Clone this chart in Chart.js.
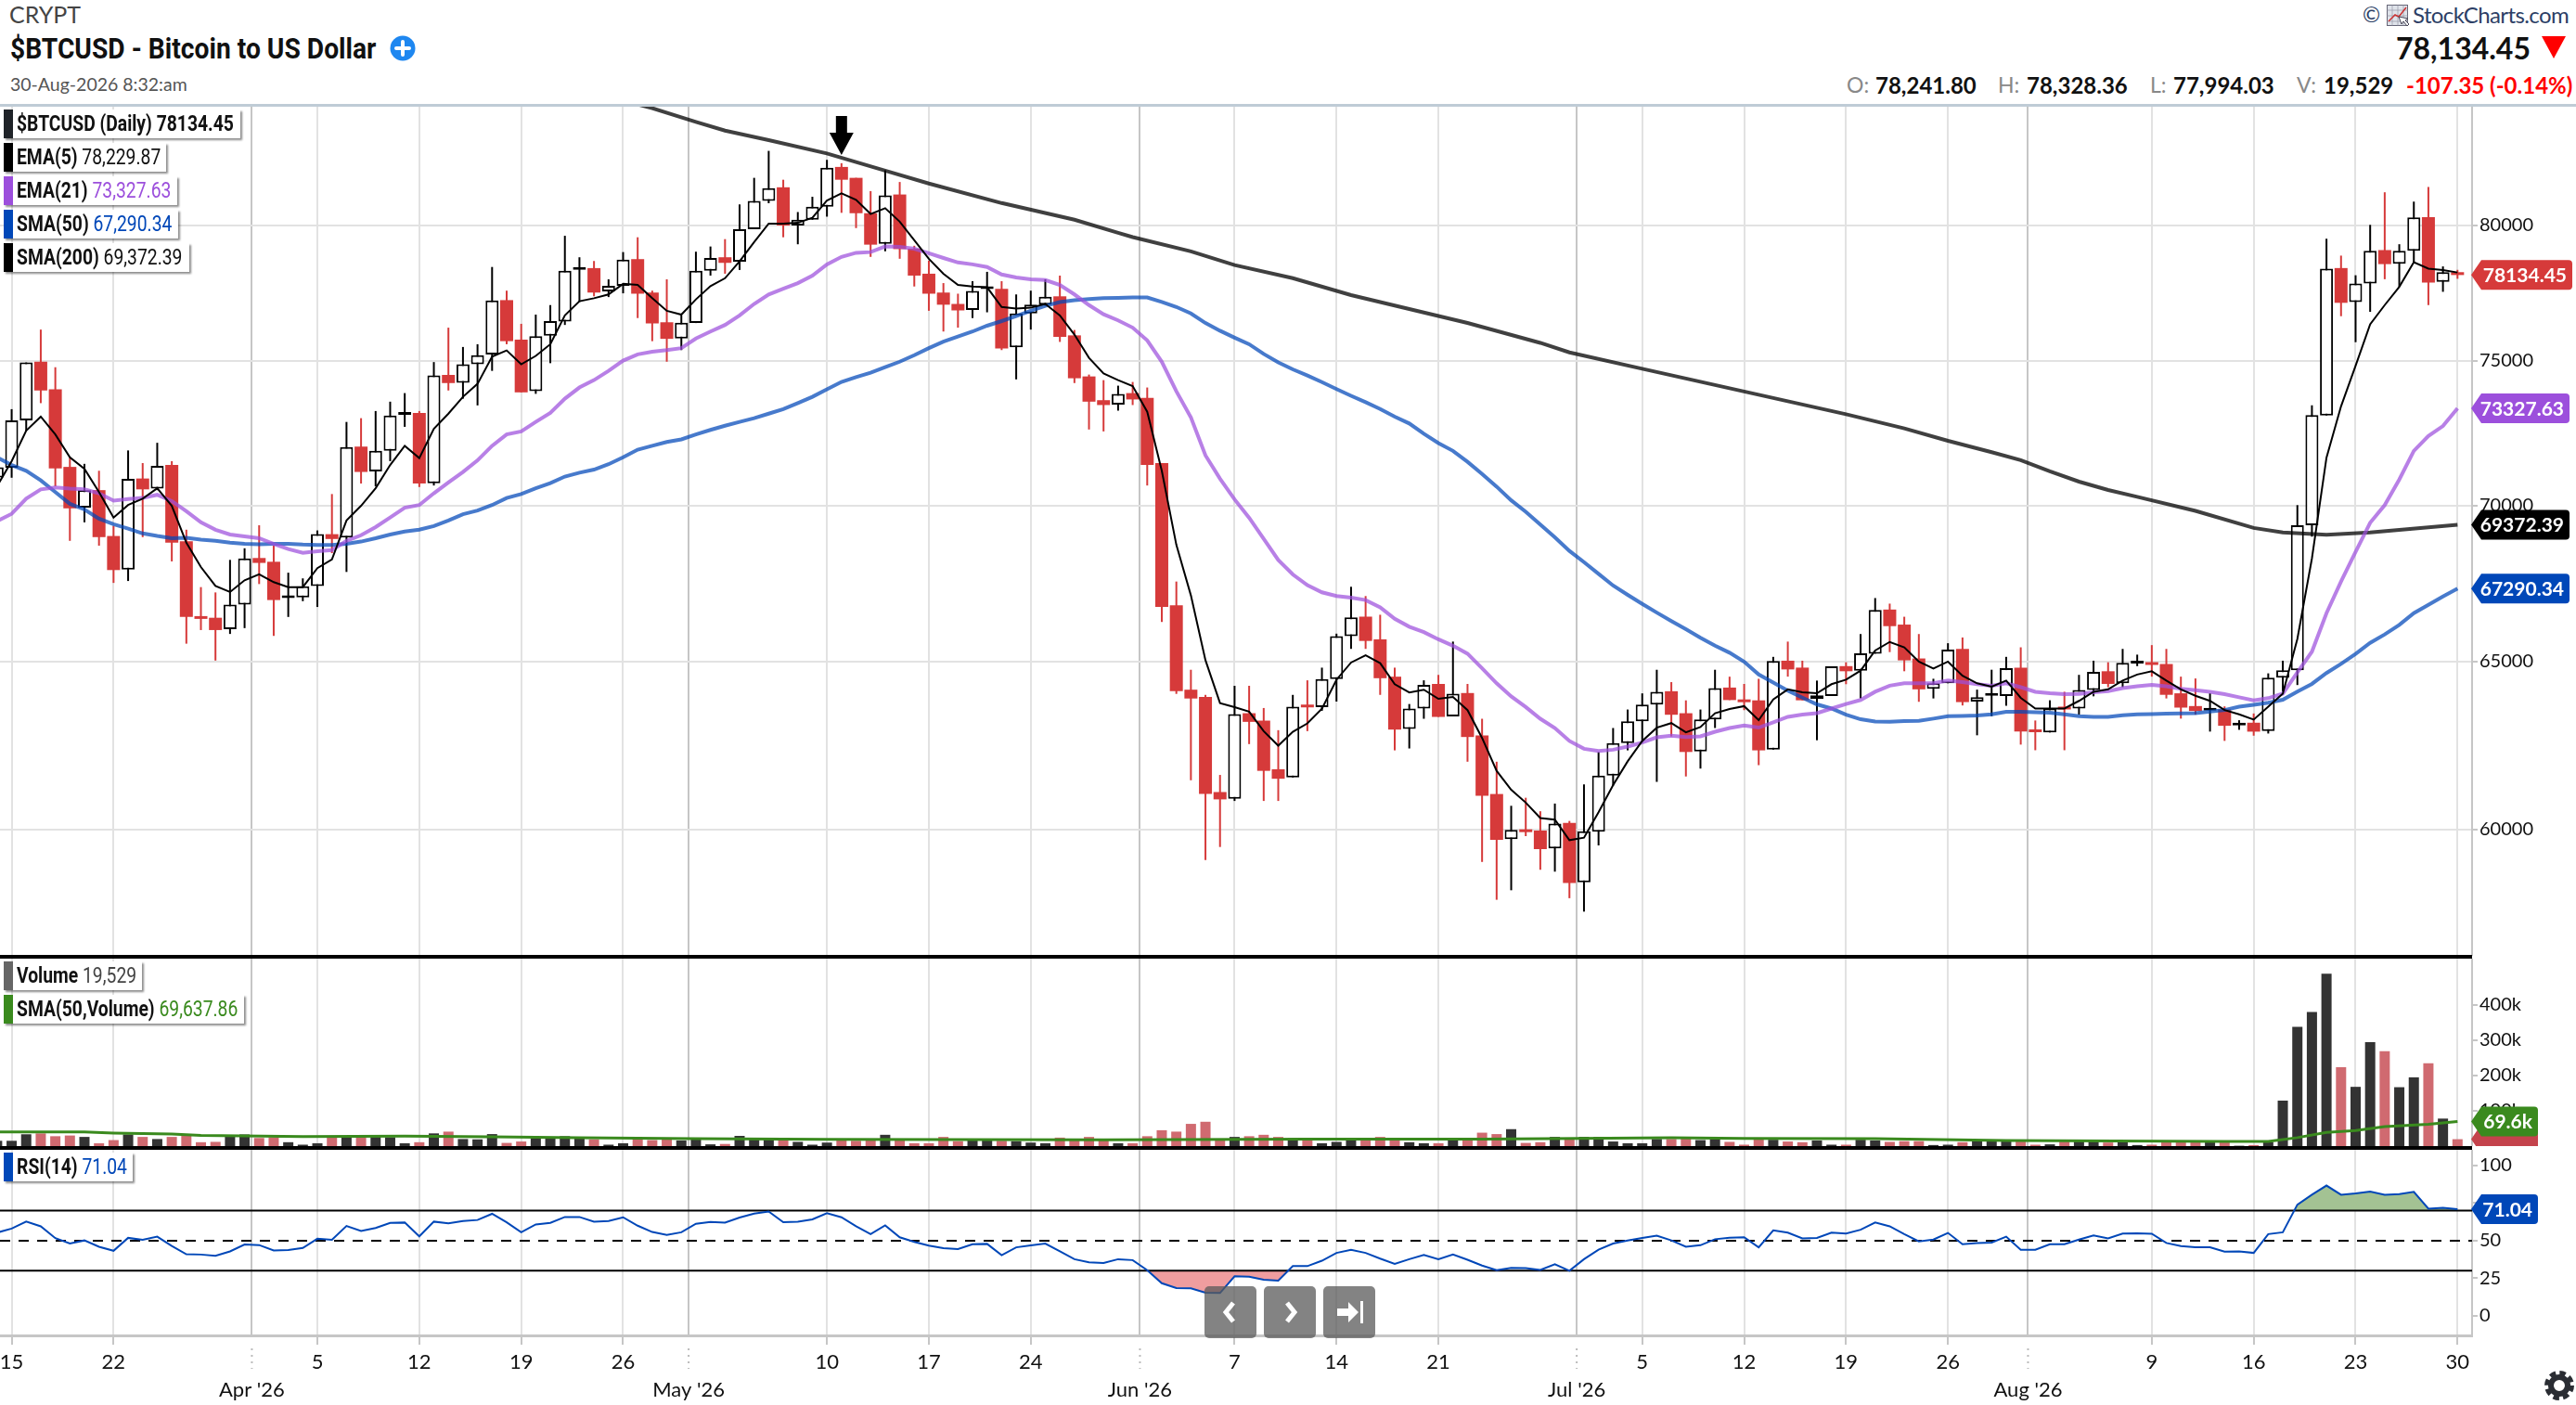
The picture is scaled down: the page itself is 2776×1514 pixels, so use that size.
<!DOCTYPE html>
<html>
<head>
<meta charset="utf-8">
<title>$BTCUSD</title>
<script src="https://cdn.jsdelivr.net/npm/chart.js@4"></script>
<style>
html, body { margin: 0; padding: 0; background: #fff; }
body { width: 2776px; height: 1514px; position: relative; overflow: hidden; font-family: Lato, sans-serif; color: #111; }
canvas { position: absolute; left: 0; }
.txt { position: absolute; white-space: nowrap; line-height: 1; }
.cond { display: inline-block; transform: scaleX(.91); transform-origin: left center; font-family: Roboto, sans-serif; }
.tag { position: absolute; left: 4px; height: 31px; background: #fff; box-shadow: 2px 2px 2px rgba(0,0,0,.45); white-space: nowrap; line-height: 31px; font-size: 23px; }
.tag i { position: absolute; left: 0; top: 0; bottom: 0; width: 10px; }
.tag span { position: absolute; left: 14px; top: 0; font-family: Roboto, sans-serif; transform: scaleX(.84); transform-origin: left center; font-weight: 700; }
.tag b { font-weight: 400; }
.rule { position: absolute; left: 0; width: 2664px; background: #000; }
.navBtn { position: absolute; top: 1386px; width: 56px; height: 56px; border-radius: 5px; background: rgba(90,90,90,.75); }
</style>
</head>
<body>

<div class="txt" style="left:10px;top:3px;font-size:25px;color:#444">CRYPT</div>
<div class="txt" style="left:11px;top:36px;font-size:31px;font-weight:700"><span class="cond" id="titleTxt">$BTCUSD - Bitcoin to US Dollar</span></div>
<svg style="position:absolute;left:420px;top:38px" width="28" height="28"><circle cx="14" cy="14" r="13.5" fill="#1e87f0"/><path d="M14 7v14M7 14h14" stroke="#fff" stroke-width="4" stroke-linecap="round"/></svg>
<div class="txt" style="left:11px;top:81px;font-size:19.5px;color:#555">30-Aug-2026 8:32:am</div>

<div class="txt" style="left:2546px;top:4px;font-size:23px;color:#2d3f66">©</div>
<svg style="position:absolute;left:2572px;top:5px" width="25" height="26"><rect x=".5" y=".5" width="22" height="22" fill="#dfe3ea" stroke="#667"/><path d="M6 .5v22M12 .5v22M18 .5v22M.5 6h22M.5 12h22M.5 18h22" stroke="#99a" stroke-width=".7"/><path d="M2 18L9 11L13 13L21 3" stroke="#c33" fill="none" stroke-width="1.5"/><path d="M13 13l3 8l2-3l4 5l2-2l-4-4l3-2z" fill="#fff" stroke="#445"/></svg>
<div class="txt" style="left:2600px;top:4px;font-size:24px;color:#2d3f66;letter-spacing:-.6px">StockCharts.com</div>

<div class="txt" style="right:49px;top:36px;font-size:32px;font-weight:700">78,134.45</div>
<svg style="position:absolute;left:2739px;top:39px" width="26" height="24"><path d="M0 0H26L13 24Z" fill="#f00"/></svg>

<div class="txt" style="left:1990px;top:80px;font-size:23px;color:#888">O:</div>
<div class="txt" style="left:2021px;top:80px;font-size:24px;font-weight:700">78,241.80</div>
<div class="txt" style="left:2153px;top:80px;font-size:23px;color:#888">H:</div>
<div class="txt" style="left:2184px;top:80px;font-size:24px;font-weight:700">78,328.36</div>
<div class="txt" style="left:2317px;top:80px;font-size:23px;color:#888">L:</div>
<div class="txt" style="left:2342px;top:80px;font-size:24px;font-weight:700">77,994.03</div>
<div class="txt" style="left:2475px;top:80px;font-size:23px;color:#888">V:</div>
<div class="txt" style="left:2504px;top:80px;font-size:24px;font-weight:700">19,529</div>
<div class="txt" style="left:2593px;top:80px;font-size:24px;font-weight:700;color:#f00">-107.35 (-0.14%)</div>

<div style="position:absolute;left:0;top:112px;width:2776px;height:3px;background:#bfccd6"></div>

<canvas id="priceChart" width="2776" height="915" style="top:115px"></canvas>
<canvas id="volChart" width="2776" height="202" style="top:1033px"></canvas>
<canvas id="rsiChart" width="2776" height="275" style="top:1239px"></canvas>

<div class="rule" style="top:1029px;height:4px"></div>
<div class="rule" style="top:1235px;height:4px"></div>

<div class="tag" style="top:118px;width:255px"><i style="background:#1f2328"></i><span>$BTCUSD (Daily) 78134.45</span></div>
<div class="tag" style="top:154px;width:175px"><i style="background:#000"></i><span>EMA(5) <b>78,229.87</b></span></div>
<div class="tag" style="top:190px;width:187px"><i style="background:#9c4fdc"></i><span>EMA(21) <b style="color:#9c4fdc">73,327.63</b></span></div>
<div class="tag" style="top:226px;width:188px"><i style="background:#0047b8"></i><span>SMA(50) <b style="color:#0047b8">67,290.34</b></span></div>
<div class="tag" style="top:262px;width:200px"><i style="background:#000"></i><span>SMA(200) <b>69,372.39</b></span></div>
<div class="tag" style="top:1036px;width:149px"><i style="background:#666"></i><span>Volume <b style="color:#444">19,529</b></span></div>
<div class="tag" style="top:1072px;width:259px"><i style="background:#3a8a1e"></i><span>SMA(50,Volume) <b style="color:#3a8a1e">69,637.86</b></span></div>
<div class="tag" style="top:1242px;width:139px"><i style="background:#0047b8"></i><span>RSI(14) <b style="color:#0047b8">71.04</b></span></div>

<div class="navBtn" style="left:1298px"><svg width="56" height="56"><path d="M31 18L23 28L31 38" fill="none" stroke="#fff" stroke-width="5"/></svg></div>
<div class="navBtn" style="left:1362px"><svg width="56" height="56"><path d="M25 18L33 28L25 38" fill="none" stroke="#fff" stroke-width="5"/></svg></div>
<div class="navBtn" style="left:1426px"><svg width="56" height="56"><path d="M15 24h12v-7l11 11l-11 11v-7H15z" fill="#fff"/><rect x="40" y="16" width="3" height="24" fill="#fff"/></svg></div>

<svg style="position:absolute;left:2742px;top:1477px" width="32" height="32" viewBox="0 0 32 32"><circle cx="16" cy="16" r="9" fill="none" stroke="#2a2d33" stroke-width="6"/><circle cx="16" cy="16" r="13" fill="none" stroke="#2a2d33" stroke-width="6" stroke-dasharray="6.2 4"/></svg>

<script>
//Candles, one per day from 14 Mar (day 0) to 30 Aug (day 169)
const opens = [
    70950, 71283, 72906, 74974, 73992, 71309, 69939, 70524, 69000, 67902, 70916, 70576, 71374, 68829, 66364, 66364, 66000, 66781,
    68280, 68158, 66990, 67011, 67377, 69060, 68951, 72002, 71152, 71858, 73100, 73167, 70759, 74503, 74228, 74882, 75235, 77206, 75767, 73926, 75907, 76424, 78325, 78393, 77527, 77737, 78729, 77485, 76396, 75809,
    76368, 78296, 78799, 78631, 79860, 80941, 81470, 80000, 80220, 80720, 82264, 81838, 80470, 79302, 81191, 79120, 78184, 77485, 77066, 76843, 77610, 77625, 75489, 76717, 77038, 77346, 75921, 74450, 73612, 73455, 73861,
    73691, 71440, 66756, 64128, 63905, 61076, 60882, 63413, 63190, 61743, 61503, 63627, 63599, 64452, 65784, 66399, 65685, 64527, 62940, 63552, 64304, 63320, 64026, 62745, 61019, 59718, 59982, 59965, 59454, 60186,
    58504, 59930, 61559, 62514, 63172, 63673, 64081, 63413, 62272, 63227, 64193, 63794, 63803, 62324, 65020, 64806, 63843, 63935, 64852, 64713, 65238, 66624, 66148, 65089, 64157, 64324, 65386, 63768, 63945, 63935, 64806,
    62898, 62833, 63565, 63555, 64120, 64694, 64324, 64935, 64917, 64917, 64018, 63630, 63490, 63528, 63045, 63127, 62877, 64499, 64722, 69351, 73078, 78395, 77133, 77820, 79069, 78555, 79044, 80322, 77881, 78241.80
];
const highs = [
    71300, 73298, 74948, 76130, 74777, 71636, 71413, 71178, 69329, 71871, 71440, 72133, 71505, 69207, 67340, 67170, 68219, 68597,
    69353, 68682, 67804, 67621, 69183, 70393, 72853, 72984, 73233, 73560, 73861, 73233, 74961, 76200, 75502, 75600, 78435, 77555, 76340, 76675, 77024, 79609, 78799, 78659, 77974, 78994, 79553, 77555, 77974, 76647,
    79008, 79204, 79483, 80808, 81838, 82896, 81764, 80515, 81103, 82543, 82411, 81838, 81323, 82132, 81676, 79232, 78673, 77835, 77443, 77905, 78254, 77905, 77416, 77555, 77974, 78114, 76116, 74516, 74319, 74123, 74254,
    74058, 71440, 67519, 64740, 63970, 61576, 64248, 64248, 63571, 62903, 63970, 64415, 64805, 65863, 67351, 67054, 66459, 64805, 63692, 64415, 64582, 65615, 64304, 63246, 61965, 60677, 60910, 60520, 60742, 60241,
    61299, 62253, 62968, 63525, 64016, 64740, 64360, 63803, 63525, 64740, 64527, 64304, 64462, 65139, 65614, 65020, 64407, 64843, 64972, 65851, 66990, 66812, 66396, 65851, 64463, 65564, 65743, 64130, 64741, 65139, 65436,
    63194, 63805, 64065, 64583, 65020, 64972, 65386, 65208, 65505, 65386, 64528, 64472, 64018, 63620, 63202, 63406, 64629, 65020, 70023, 73433, 79498, 78861, 78126, 80025, 81277, 79290, 80916, 81483, 78456, 78328.36
];
const lows = [
    70700, 70942, 72550, 73508, 70654, 68841, 69451, 68682, 67475, 67536, 68963, 70524, 68170, 65549, 65976, 65024, 65854, 66037,
    67438, 65793, 66389, 66890, 66706, 68438, 67828, 70746, 70654, 71505, 72683, 70628, 70680, 73953, 73665, 73429, 74647, 75600, 73887, 73835, 74921, 76298, 77136, 77346, 77318, 77457, 76549, 75711, 74974, 75390,
    76368, 78114, 78184, 78324, 79860, 80853, 79553, 79288, 80220, 80338, 80485, 79902, 78813, 79023, 78743, 77709, 76815, 76060, 76200, 76549, 76759, 75390, 74345, 76130, 76996, 75684, 74215, 72591, 72525, 73246, 73442,
    70680, 66231, 64000, 61420, 59129, 59498, 60817, 62487, 60817, 60817, 61503, 62875, 63487, 63766, 65387, 65387, 63970, 62301, 62357, 63246, 63302, 63320, 61965, 59076, 58020, 58284, 59806, 58856, 58803, 58064,
    57694, 59542, 61260, 62301, 62531, 61373, 62717, 61531, 61763, 62968, 63812, 63506, 61863, 62324, 64528, 63805, 62602, 63935, 64296, 63861, 65238, 65287, 64694, 63759, 63861, 64324, 63648, 62750, 63324, 63639, 62472,
    62305, 62833, 62305, 63370, 63926, 64204, 64204, 64852, 64528, 63861, 63250, 63370, 62861, 62583, 62914, 62738, 62803, 64073, 64270, 68979, 73078, 76617, 75674, 76776, 77979, 77697, 78616, 77023, 77513, 77994.03
];
const closes = [
    71300, 72906, 74948, 73953, 71256, 69915, 70524, 68963, 67889, 70903, 70550, 71348, 68780, 66389, 66328, 65976, 66781, 68268,
    68121, 66926, 67030, 67365, 69060, 68902, 71989, 71138, 71858, 73076, 73130, 70746, 74489, 74215, 74882, 75208, 77192, 75711, 73887, 75893, 76438, 78296, 78350, 77485, 77737, 78715, 77443, 76354, 75795, 76382,
    78296, 78771, 78589, 79860, 80941, 81441, 80000, 80220, 80720, 82234, 81764, 80470, 79274, 81161, 79106, 78114, 77443, 77038, 76829, 77541, 77640, 75447, 76717, 77038, 77332, 75865, 74385, 73560, 73442, 73835, 73638,
    71374, 66707, 64081, 63859, 61019, 60863, 63385, 63153, 61696, 61464, 63608, 63590, 64452, 65784, 66379, 65635, 64480, 62921, 63552, 64276, 63302, 64007, 62699, 60965, 59701, 59982, 59921, 59437, 60167, 58486,
    59947, 61559, 62514, 63172, 63673, 64063, 63367, 62253, 63227, 64174, 63812, 63747, 62301, 65010, 64750, 63805, 63954, 64843, 64694, 65248, 66614, 66099, 65030, 64139, 64324, 65366, 63750, 63898, 63965, 64787, 62861,
    62842, 63555, 63528, 64120, 64676, 64305, 64954, 64955, 64889, 63972, 63583, 63481, 63510, 63035, 63060, 62859, 64499, 64722, 69351, 73090, 78371, 77107, 77820, 79044, 78542, 79044, 80310, 77856, 78242, 78134.45
];

//Moving averages
const ema5 = [
    70654, 71505, 72552, 73037, 72421, 71636, 71243, 70458, 69610, 70026, 70236, 70589, 70000, 68780, 67987, 67377, 67182, 67560,
    67755, 67499, 67340, 67340, 67950, 68231, 69512, 70000, 70589, 71374, 72029, 71610, 72618, 73141, 73730, 74188, 75154, 75377, 74882, 75181, 75600, 76647, 77164, 77276, 77415, 77807, 77765, 77276, 76815, 76675,
    77234, 77723, 78016, 78645, 79371, 80074, 80074, 80103, 80294, 80956, 81235, 80985, 80441, 80662, 80147, 79441, 78743, 78184, 77765, 77709, 77681, 76955, 76899, 76927, 77066, 76647, 75949, 75111, 74555, 74319, 74110,
    73207, 71178, 68710, 67074, 65037, 63719, 63599, 63460, 62875, 62439, 62856, 63107, 63552, 64434, 64963, 65188, 64944, 64295, 64044, 64128, 63849, 63905, 63506, 62671, 61696, 61141, 60770, 60325, 60279, 59692,
    59762, 60492, 61280, 61976, 62578, 62977, 63116, 62838, 62996, 63413, 63543, 63627, 63204, 63833, 64139, 64046, 64018, 64296, 64435, 64713, 65337, 65604, 65436, 64991, 64778, 64991, 64555, 64324, 64222, 64407, 63880,
    63555, 63555, 63555, 63787, 64065, 64139, 64407, 64593, 64694, 64407, 64139, 63944, 63787, 63509, 63378, 63220, 63610, 64008, 65700, 68266, 71625, 73398, 74830, 76323, 77024, 77697, 78616, 78371, 78322, 78229.87
];
const ema21 = [
    69488, 69732, 70236, 70550, 70615, 70576, 70550, 70419, 70170, 70223, 70262, 70367, 70157, 69817, 69451, 69207, 69048, 68987,
    68926, 68743, 68573, 68451, 68500, 68536, 68841, 69024, 69292, 69610, 69935, 70026, 70419, 70785, 71138, 71531, 72029, 72421, 72526, 72853, 73167, 73665, 74058, 74319, 74647, 75014, 75235, 75332, 75390, 75461,
    75809, 76060, 76298, 76647, 77066, 77416, 77625, 77835, 78114, 78533, 78813, 78966, 78994, 79204, 79190, 79120, 78952, 78771, 78603, 78533, 78436, 78156, 78044, 77974, 77946, 77765, 77416, 77024, 76689, 76466, 76200,
    75740, 74974, 73926, 73010, 71701, 70910, 70214, 69603, 68909, 68214, 67748, 67401, 67173, 67054, 67004, 66925, 66697, 66329, 66081, 65913, 65685, 65486, 65238, 64787, 64323, 63924, 63599, 63246, 62968, 62580,
    62348, 62281, 62320, 62412, 62533, 62689, 62736, 62699, 62717, 62856, 62968, 63042, 62981, 63138, 63305, 63370, 63417, 63555, 63694, 63815, 64065, 64250, 64324, 64324, 64324, 64407, 64361, 64296, 64250, 64324, 64204,
    64065, 64018, 63991, 64000, 64046, 64083, 64176, 64231, 64278, 64231, 64157, 64111, 64065, 63991, 63897, 63804, 63869, 64008, 64657, 65300, 66511, 67521, 68479, 69436, 70023, 70881, 71854, 72369, 72712, 73327.63
];
const sma50 = [
    71636, 71374, 71178, 70851, 70458, 70065, 69878, 69573, 69390, 69244, 69085, 69000, 68926, 68939, 68878, 68841, 68780, 68743,
    68731, 68743, 68743, 68719, 68707, 68707, 68743, 68817, 68926, 69048, 69146, 69207, 69329, 69512, 69719, 69841, 70026, 70262, 70393, 70589, 70759, 70982, 71113, 71217, 71400, 71636, 71898, 72029, 72159, 72251,
    72421, 72578, 72722, 72853, 72984, 73141, 73298, 73508, 73730, 73992, 74254, 74424, 74581, 74777, 74974, 75208, 75461, 75697, 75879, 76060, 76270, 76438, 76619, 76815, 76996, 77136, 77206, 77248, 77276, 77290, 77304,
    77304, 77136, 76955, 76717, 76368, 76088, 75837, 75600, 75251, 74948, 74700, 74485, 74249, 74002, 73766, 73541, 73305, 73036, 72800, 72446, 72124, 71856, 71481, 71070, 70642, 70182, 69801, 69375, 68958, 68512,
    68145, 67768, 67391, 67093, 66805, 66527, 66260, 66002, 65734, 65486, 65268, 64990, 64594, 64347, 64100, 63886, 63681, 63555, 63370, 63231, 63166, 63157, 63176, 63185, 63250, 63324, 63333, 63342, 63380, 63454, 63454,
    63444, 63426, 63380, 63324, 63305, 63305, 63352, 63380, 63389, 63398, 63407, 63417, 63463, 63509, 63609, 63665, 63730, 63823, 64073, 64305, 64640, 64920, 65234, 65575, 65840, 66139, 66511, 66777, 67043, 67290.34
];
const sma200Days = [44, 45, 48, 50, 53, 57, 61, 64, 69, 74, 77, 78, 82, 85, 89, 93, 97, 101, 106, 108, 113, 120, 127, 131, 134, 137, 139, 141, 143, 145, 147, 151, 155, 157, 160, 163, 169];
const sma200 = [84750, 84600, 84050, 83700, 83320, 82793, 82120, 81617, 80860, 80220, 79720, 79560, 79022, 78505, 78016, 77391, 76880, 76371, 75650, 75308, 74721, 73916, 73122, 72629, 72200, 71810, 71540, 71160, 70810, 70530, 70300, 69830, 69266, 69117, 69042, 69117, 69372.39];

//Volume, in thousands
const volume = [
    15, 15, 33.5, 36, 28, 30, 26, 8, 17, 33, 26, 20, 26, 32, 11, 12, 28, 33,
    23, 25, 11, 4, 8, 26, 26, 26, 26, 25, 8, 11, 36, 41, 20, 19, 34, 9, 13, 22, 22, 28, 25, 19, 4, 8, 22, 17, 21, 16,
    20, 5, 6, 29, 20, 20, 19, 12, 4, 10, 19, 15, 19, 32, 21, 8, 8, 26, 14, 18, 17, 15, 14, 10, 8, 24, 18, 26, 21, 8, 8,
    28, 45, 41, 63, 69, 21, 26, 28, 32, 26, 22, 20, 8, 12, 19, 17, 26, 21, 11, 8, 8, 19, 18, 38, 34, 48, 9, 11, 26, 20,
    26, 26, 13, 8, 8, 20, 20, 25, 17, 20, 12, 4, 19, 18, 13, 11, 16, 4, 4, 18, 16, 12, 14, 14, 3, 4, 11, 14, 14, 14, 13,
    4, 5, 13, 13, 13, 10, 12, 3, 4, 13, 11, 11, 11, 11, 1, 3, 11, 129, 338, 380, 489, 224, 168, 295, 269, 167, 195, 235, 78, 19.529
];
const volSmaDays = [0, 6, 8, 12, 14, 21, 28, 34, 40, 48, 57, 76, 90, 102, 115, 120, 129, 138, 153, 156, 158, 160, 162, 164, 167, 169];
const volSma = [40, 40, 37, 34, 30, 27, 28, 26, 24, 21, 19, 17.6, 20, 20, 24, 22, 21, 16, 13, 13, 24, 39, 44, 55, 62, 69.64];

//RSI
const rsi = [
    55.4, 58.1, 62.7, 59.6, 51.7, 48.1, 50.2, 46.0, 43.3, 51.9, 50.6, 52.7, 46.5, 41.0, 40.8, 40.0, 42.9, 47.5,
    47.1, 43.5, 43.8, 45.2, 51.3, 50.6, 59.8, 56.5, 58.5, 61.9, 62.1, 52.9, 62.7, 61.5, 63.1, 63.8, 67.9, 62.3, 55.6, 60.8, 61.9, 65.8, 65.8, 62.7, 63.1, 65.6, 60.0, 55.8, 53.8, 55.6,
    61.3, 62.5, 62.1, 65.4, 68.1, 69.4, 62.3, 62.7, 64.2, 68.3, 65.6, 59.6, 54.4, 60.2, 52.3, 49.2, 46.7, 45.0, 44.4, 47.7, 47.9, 40.4, 45.6, 46.9, 48.1, 42.9, 37.7, 35.6, 35.2, 37.7, 37.1,
    30.4, 21.7, 18.5, 18.3, 15.4, 15.2, 26.3, 26.0, 24.0, 23.5, 33.1, 33.1, 36.7, 41.9, 44.0, 41.9, 38.1, 34.6, 37.7, 40.6, 37.7, 40.8, 37.3, 33.5, 30.4, 31.9, 31.7, 30.6, 34.4, 30.0,
    37.7, 44.0, 48.1, 50.2, 51.9, 53.3, 50.2, 46, 47, 51, 52, 52.3, 45.6, 56.9, 55.4, 51.5, 51.9, 55.4, 54.8, 57.3, 62.1, 59.6, 54.4, 49.6, 50.8, 55.2, 47.7, 48.5, 48.8, 52.7, 44.0,
    44.0, 47.7, 47.7, 50.8, 53.5, 51.5, 54.8, 55.0, 54.6, 48.5, 46.5, 45.6, 45.6, 42.7, 42.9, 41.9, 54.4, 55.6, 74.0, 80.6, 86.7, 80.6, 81.5, 82.7, 80.6, 81.0, 82.5, 71.3, 71.9, 71.04
];

//Axis ticks
const weekDays = [1, 8, 22, 29, 36, 43, 57, 64, 71, 85, 92, 99, 113, 120, 127, 134, 148, 155, 162, 169];
const weekLabels = ['15', '22', '5', '12', '19', '26', '10', '17', '24', '7', '14', '21', '5', '12', '19', '26', '9', '16', '23', '30'];
const monthDays = [17.5, 47.5, 78.5, 108.5, 139.5];
const monthLabels = ["Apr '26", "May '26", "Jun '26", "Jul '26", "Aug '26"];
const priceTicks = [60000, 65000, 70000, 75000, 80000];
const volTicks = [100, 200, 300, 400];
const rsiTicks = [0, 25, 50, 75, 100];

//Marker above the May high
const arrowDay = 58;
const arrowPrice = 82733;

const days = closes.map((c, i) => i);
const isUp = i => closes[i] >= opens[i];
const RED = '#d63a3a';
const allXTicks = [...weekDays, ...monthDays].sort((a, b) => a - b);

function points(xs, ys) {
    return xs.map((x, i) => ({ x: x, y: ys[i] }));
}

//Same daily x axis in all three panes
function xAxis(showLabels) {
    return {
        type: 'linear',
        min: 0.2,
        max: 170,
        offset: false,
        afterBuildTicks: scale => { scale.ticks = allXTicks.map(v => ({ value: v })); },
        afterFit: scale => {
            scale.height = showLabels ? 75 : 0;
            scale.paddingLeft = 0;
            scale.paddingRight = 0;
        },
        grid: {
            offset: false,
            drawTicks: showLabels,
            tickLength: 10,
            lineWidth: 2,
            tickColor: c => monthDays.includes(c.tick.value) ? 'transparent' : '#c6c6c6',
            color: c => monthDays.includes(c.tick.value) ? '#c6c6c6' : '#e2e2e2'
        },
        border: { display: showLabels, color: '#c6c6c6', width: 3 },
        ticks: {
            display: showLabels,
            autoSkip: false,
            maxRotation: 0,
            padding: 4,
            color: '#111',
            font: { family: 'Lato', size: 22, lineHeight: 1.36 },
            callback: v => {
                if (monthDays.includes(v)) return ['', monthLabels[monthDays.indexOf(v)]];
                return weekLabels[weekDays.indexOf(v)];
            }
        }
    };
}

function yAxis(extra, gridColor, tickText) {
    return Object.assign({
        position: 'right',
        afterFit: scale => {
            scale.width = 112;
            scale.paddingTop = 0;
            scale.paddingBottom = 0;
        },
        grid: { color: gridColor, lineWidth: 2, tickLength: 6, tickColor: '#c6c6c6' },
        border: { color: '#c6c6c6', width: 2 },
        ticks: { autoSkip: false, padding: 2, color: '#111', font: { family: 'Lato', size: 20 }, callback: tickText }
    }, extra);
}

//Pentagon value tag on the right of a pane
function drawTag(chart, value, text, color, width) {
    const ctx = chart.ctx;
    const y = chart.scales.y.getPixelForValue(value);
    const x = 2663, h = 32, r = 4;
    ctx.save();
    ctx.fillStyle = color;
    ctx.beginPath();
    ctx.moveTo(x, y);
    ctx.lineTo(x + 11, y - h / 2);
    ctx.lineTo(x + width - r, y - h / 2);
    ctx.arcTo(x + width, y - h / 2, x + width, y - h / 2 + r, r);
    ctx.lineTo(x + width, y + h / 2 - r);
    ctx.arcTo(x + width, y + h / 2, x + width - r, y + h / 2, r);
    ctx.lineTo(x + 11, y + h / 2);
    ctx.closePath();
    ctx.fill();
    ctx.fillStyle = '#fff';
    ctx.font = 'bold 21px Lato';
    ctx.textAlign = 'right';
    ctx.textBaseline = 'middle';
    ctx.fillText(text, x + width - 6, y + 1);
    ctx.restore();
}

const priceDecor = {
    id: 'priceDecor',
    afterDatasetsDraw(chart) {
        const ctx = chart.ctx;
        const tipX = chart.scales.x.getPixelForValue(arrowDay);
        const tipY = chart.scales.y.getPixelForValue(arrowPrice);
        ctx.save();
        ctx.fillStyle = '#000';
        ctx.beginPath();
        ctx.moveTo(tipX, tipY);
        ctx.lineTo(tipX - 13, tipY - 24);
        ctx.lineTo(tipX - 6, tipY - 24);
        ctx.lineTo(tipX - 6, tipY - 42);
        ctx.lineTo(tipX + 6, tipY - 42);
        ctx.lineTo(tipX + 6, tipY - 24);
        ctx.lineTo(tipX + 13, tipY - 24);
        ctx.closePath();
        ctx.fill();
        ctx.restore();
    },
    afterDraw(chart) {
        drawTag(chart, 78134.45, '78134.45', RED, 109);
        drawTag(chart, 73327.63, '73327.63', '#9c4fdc', 106);
        drawTag(chart, 69372.39, '69372.39', '#000', 106);
        drawTag(chart, 67290.34, '67290.34', '#0047b8', 106);
    }
};

const volDecor = {
    id: 'volDecor',
    afterDraw(chart) {
        drawTag(chart, 19.529, '', '#c4434c', 72);
        drawTag(chart, 69.63786, '69.6k', '#3a8a1e', 72);
    }
};

const rsiDecor = {
    id: 'rsiDecor',
    afterDraw(chart) {
        drawTag(chart, 71.04, '71.04', '#0047b8', 72);

        //dotted month marks under the axis
        const ctx = chart.ctx;
        const bottom = chart.scales.x.bottom;
        ctx.save();
        ctx.strokeStyle = '#bbb';
        ctx.lineWidth = 2;
        ctx.setLineDash([2, 5]);
        monthDays.forEach(d => {
            const x = chart.scales.x.getPixelForValue(d);
            ctx.beginPath();
            ctx.moveTo(x, bottom - 61);
            ctx.lineTo(x, bottom - 39);
            ctx.stroke();
        });
        ctx.restore();
    }
};

const baseOptions = {
    responsive: false,
    animation: false,
    devicePixelRatio: 1,
    layout: { padding: 0 },
    plugins: { legend: { display: false }, tooltip: { enabled: false } }
};

function lineSet(data, color, width, order) {
    return { type: 'line', data: data, borderColor: color, borderWidth: width, pointRadius: 0, tension: 0, fill: false, order: order };
}

//Price pane
new Chart(document.getElementById('priceChart'), {
    type: 'bar',
    data: {
        datasets: [
            lineSet(points(days, ema5), '#000', 2, 1),
            lineSet(points(days, ema21), 'rgba(156,79,220,.72)', 4, 2),
            lineSet(points(days, sma50), 'rgba(0,71,184,.72)', 4, 3),
            lineSet(points(sma200Days, sma200), 'rgba(0,0,0,.75)', 4, 4),
            {
                data: days.map(i => ({ x: i, y: [Math.min(opens[i], closes[i]), Math.max(opens[i], closes[i])] })),
                grouped: false,
                maxBarThickness: 14,
                barPercentage: 1,
                categoryPercentage: 1,
                minBarLength: 3,
                inflateAmount: 0,
                borderSkipped: false,
                backgroundColor: c => isUp(c.dataIndex) ? '#fff' : RED,
                borderColor: '#000',
                borderWidth: c => isUp(c.dataIndex) ? 2 : 0,
                order: 5
            },
            {
                data: days.map(i => ({ x: i, y: [lows[i], highs[i]] })),
                grouped: false,
                maxBarThickness: 2,
                barPercentage: 1,
                categoryPercentage: 1,
                inflateAmount: 0,
                backgroundColor: c => isUp(c.dataIndex) ? '#000' : RED,
                order: 6
            }
        ]
    },
    options: Object.assign({}, baseOptions, {
        scales: {
            x: xAxis(false),
            y: yAxis({
                type: 'logarithmic',
                min: 56491,
                max: 84658,
                afterBuildTicks: scale => { scale.ticks = priceTicks.map(v => ({ value: v })); }
            }, '#e2e2e2', v => String(v))
        }
    }),
    plugins: [priceDecor]
});

//Volume pane
new Chart(document.getElementById('volChart'), {
    type: 'bar',
    data: {
        datasets: [
            lineSet(points(volSmaDays, volSma), '#3a8a1e', 3, 1),
            {
                data: points(days, volume),
                grouped: false,
                maxBarThickness: 11,
                barPercentage: 1,
                categoryPercentage: 1,
                inflateAmount: 0,
                backgroundColor: c => isUp(c.dataIndex) ? '#333' : '#d06a70',
                order: 2
            }
        ]
    },
    options: Object.assign({}, baseOptions, {
        scales: {
            x: xAxis(false),
            y: yAxis({
                min: 0,
                max: 531.6,
                afterBuildTicks: scale => { scale.ticks = volTicks.map(v => ({ value: v })); }
            }, 'transparent', v => v + 'k')
        }
    }),
    plugins: [volDecor]
});

//RSI pane
const levelDays = [0.2, 170];
const upperLevel = [70, 70];
const midLevel = [50, 50];
const lowerLevel = [30, 30];

new Chart(document.getElementById('rsiChart'), {
    type: 'line',
    data: {
        datasets: [
            lineSet(points(days, rsi), '#0047b8', 2, 1),
            Object.assign(lineSet(points(days, rsi), 'transparent', 0, 2), {
                fill: { target: { value: 70 }, above: '#a3c293', below: 'rgba(0,0,0,0)' }
            }),
            Object.assign(lineSet(points(days, rsi), 'transparent', 0, 2), {
                fill: { target: { value: 30 }, above: 'rgba(0,0,0,0)', below: '#ef9d9f' }
            }),
            lineSet(points(levelDays, upperLevel), '#000', 2, 1),
            lineSet(points(levelDays, lowerLevel), '#000', 2, 1),
            Object.assign(lineSet(points(levelDays, midLevel), '#000', 2, 1), { borderDash: [11, 9] })
        ]
    },
    options: Object.assign({}, baseOptions, {
        scales: {
            x: xAxis(true),
            y: yAxis({
                min: -13,
                max: 110.5,
                afterBuildTicks: scale => { scale.ticks = rsiTicks.map(v => ({ value: v })); }
            }, 'transparent', v => String(v))
        }
    }),
    plugins: [rsiDecor]
});
</script>
</body>
</html>
